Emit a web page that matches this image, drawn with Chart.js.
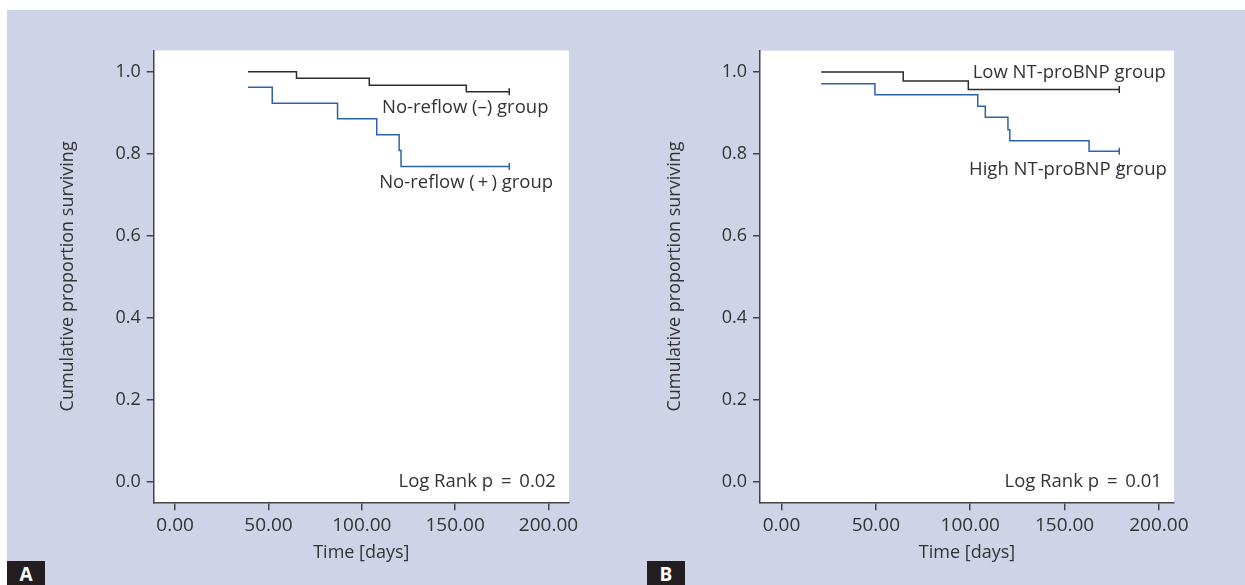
<!DOCTYPE html>
<html>
<head>
<meta charset="utf-8">
<script src="https://cdn.jsdelivr.net/npm/chart.js@4/dist/chart.umd.min.js"></script>
<style>
  html, body { margin: 0; padding: 0; background: #fff; }
  body { width: 1245px; height: 585px; position: relative; overflow: hidden; }
  #bg { position: absolute; left: 7px; top: 10px; width: 1238px; height: 575px; background: #ced3e7; }
  canvas { position: absolute; top: 0; }
  #chartA { left: 0; }
  #chartB { left: 620px; }
  .tag { position: absolute; top: 561px; width: 38px; height: 24px; background: #231f20; color: #fff;
         font: bold 19px "Open Sans", sans-serif; text-align: center; line-height: 26px; }
</style>
</head>
<body>
<div id="bg"></div>
<canvas id="chartA" width="620" height="585"></canvas>
<canvas id="chartB" width="625" height="585"></canvas>
<div class="tag" style="left:7px">A</div>
<div class="tag" style="left:647px">B</div>
<script>
const yTicks = [0, 0.2, 0.4, 0.6, 0.8, 1.0];
const xTicks = [0, 50, 100, 150, 200];

// A: no-reflow groups
const daysNegA = [39, 65, 104, 156, 179];
const survNegA = [1.0, 0.984, 0.967, 0.951, 0.951];
const daysPosA = [39, 52, 87, 108, 120, 121, 179];
const survPosA = [0.962, 0.923, 0.885, 0.846, 0.808, 0.769, 0.769];

// B: NT-proBNP groups
const daysLowB = [21, 64.5, 99, 179];
const survLowB = [1.0, 0.978, 0.957, 0.957];
const daysHighB = [21, 49.5, 104, 108, 120, 121, 163, 179];
const survHighB = [0.971, 0.944, 0.916, 0.889, 0.859, 0.832, 0.806, 0.806];
const daysCensorB = [179];
const survCensorB = [0.771];

const FONT = "'Open Sans', sans-serif";
const INK = '#333';
const AXIS = '#444';
const BLACK = '#2b2b2b';
const BLUE = '#2c63a8';

const toPoints = (xs, ys) => xs.map((x, i) => ({ x, y: ys[i] }));

const plotBg = {
  id: 'plotBg',
  beforeDraw(chart) {
    const { ctx, chartArea: a } = chart;
    ctx.save();
    ctx.fillStyle = '#fff';
    ctx.fillRect(a.left, a.top, a.right - a.left, a.bottom - a.top);
    ctx.restore();
  }
};

const notes = {
  id: 'notes',
  afterDatasetsDraw(chart, args, opts) {
    const { ctx, scales: { x, y } } = chart;
    ctx.save();
    ctx.font = '18.5px ' + FONT;
    ctx.fillStyle = INK;
    ctx.textAlign = 'right';
    ctx.textBaseline = 'middle';
    (opts.items || []).forEach(n => ctx.fillText(n.text, x.getPixelForValue(n.x), y.getPixelForValue(n.y)));
    ctx.restore();
  }
};

function kmLine(points, color) {
  const last = points.length - 1;
  return {
    data: points,
    borderColor: color,
    borderWidth: 1.5,
    stepped: 'before',
    fill: false,
    pointStyle: 'line',
    rotation: 90,
    pointRadius: c => (c.dataIndex === last ? 3.5 : 0),
    pointBorderColor: color,
    pointBorderWidth: 1.5,
  };
}

function renderPanel(canvas, datasets, p) {
  return new Chart(canvas.getContext('2d'), {
    type: 'line',
    data: { datasets },
    plugins: [plotBg, notes],
    options: {
      responsive: false,
      animation: false,
      layout: { padding: { left: 0, top: p.top, right: p.right, bottom: 0 } },
      scales: {
        x: {
          type: 'linear',
          min: p.xMin,
          max: p.xMax,
          afterBuildTicks: s => { s.ticks = xTicks.map(v => ({ value: v })); },
          afterFit: s => { s.height = 82.7; },
          border: { display: true, color: AXIS, width: 1.5 },
          grid: { display: true, drawOnChartArea: false, drawTicks: true, tickLength: 8, color: AXIS, lineWidth: 1.5 },
          ticks: { color: INK, font: { family: FONT, size: 19 }, padding: 4, maxRotation: 0, autoSkip: false,
                   callback: v => Number(v).toFixed(2) },
          title: { display: true, text: 'Time [days]', color: INK, font: { family: FONT, size: 18 },
                   padding: { top: 0, bottom: 21 } },
        },
        y: {
          min: -0.0505,
          max: 1.0517,
          afterBuildTicks: s => { s.ticks = yTicks.map(v => ({ value: v })); },
          afterFit: s => { s.width = p.yWidth; },
          border: { display: true, color: AXIS, width: 1.5 },
          grid: { display: true, drawOnChartArea: false, drawTicks: true, tickLength: 7, color: AXIS, lineWidth: 1.5 },
          ticks: { color: INK, font: { family: FONT, size: 18 }, padding: 6,
                   callback: v => Number(v).toFixed(1) },
          title: { display: true, text: 'Cumulative proportion surviving', color: INK, font: { family: FONT, size: 18 },
                   padding: { top: p.yTitle, bottom: 0 } },
        },
      },
      plugins: {
        legend: { display: false },
        tooltip: { enabled: false },
        notes: { items: p.notes },
      },
    },
  });
}

renderPanel(document.getElementById('chartA'), [
  kmLine(toPoints(daysNegA, survNegA), BLACK),
  kmLine(toPoints(daysPosA, survPosA), BLUE),
], {
  top: 50.5, right: 51, yWidth: 153.7, yTitle: 57, xMin: -11.5, xMax: 211,
  notes: [
    { text: 'No-reflow (\u2013) group', x: 200, y: 0.913 },
    { text: 'No-reflow (\u2009+\u2009) group', x: 202.5, y: 0.728 },
    { text: 'Log Rank p \u2009=\u2009 0.02', x: 204, y: 0 },
  ],
});

renderPanel(document.getElementById('chartB'), [
  kmLine(toPoints(daysLowB, survLowB), BLACK),
  kmLine(toPoints(daysHighB, survHighB), BLUE),
  {
    data: toPoints(daysCensorB, survCensorB),
    showLine: false,
    pointStyle: 'line',
    rotation: 90,
    pointRadius: 2.5,
    pointBorderColor: BLUE,
    pointBorderWidth: 1.5,
  },
], {
  top: 50.7, right: 71, yWidth: 140, yTitle: 43.7, xMin: -11.4, xMax: 208,
  notes: [
    { text: 'Low NT-proBNP group', x: 203.7, y: 0.999 },
    { text: 'High NT-proBNP group', x: 204.2, y: 0.76 },
    { text: 'Log Rank p \u2009=\u2009 0.01', x: 201.6, y: 0 },
  ],
});
</script>
</body>
</html>
